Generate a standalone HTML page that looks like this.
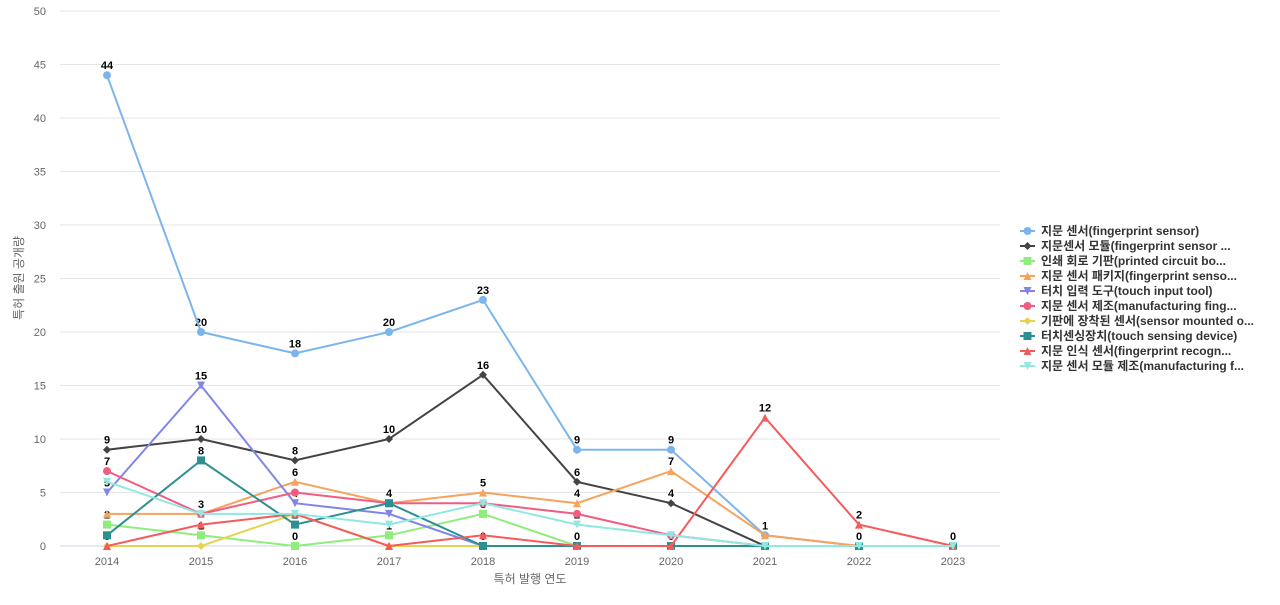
<!DOCTYPE html>
<html><head><meta charset="utf-8"><style>
body{margin:0;background:#fff;font-family:"Liberation Sans","Noto Sans CJK KR",sans-serif}
</style></head><body>
<svg id="c" width="1280" height="600"></svg>
<script>
const years=[2014,2015,2016,2017,2018,2019,2020,2021,2022,2023];
const yTicks=[0,5,10,15,20,25,30,35,40,45,50];
const names=["지문 센서(fingerprint sensor)","지문센서 모듈(fingerprint sensor ...","인쇄 회로 기판(printed circuit bo...","지문 센서 패키지(fingerprint senso...","터치 입력 도구(touch input tool)","지문 센서 제조(manufacturing fing...","기판에 장착된 센서(sensor mounted o...","터치센싱장치(touch sensing device)","지문 인식 센서(fingerprint recogn...","지문 센서 모듈 제조(manufacturing f..."];
const colors=["#7cb5ec","#434348","#90ed7d","#f7a35c","#8085e9","#f15c80","#e4d354","#2b908f","#f45b5b","#91e8e1"];
const markers=["circle","diamond","square","triangle","tdown","circle","diamond","square","triangle","tdown"];
const s0=[44,20,18,20,23,9,9,1,0,0];
const s1=[9,10,8,10,16,6,4,0,0,0];
const s2=[2,1,0,1,3,0,0,0,0,0];
const s3=[3,3,6,4,5,4,7,1,0,0];
const s4=[5,15,4,3,0,0,0,0,0,0];
const s5=[7,3,5,4,4,3,1,0,0,0];
const s6=[0,0,3,0,0,0,0,0,0,0];
const s7=[1,8,2,4,0,0,0,0,0,0];
const s8=[0,2,3,0,1,0,0,12,2,0];
const s9=[6,3,3,2,4,2,1,0,0,0];
const series=[s0,s1,s2,s3,s4,s5,s6,s7,s8,s9];
const svg=document.getElementById('c');const NS='http://www.w3.org/2000/svg';
function mk(t,a,p){const e=document.createElementNS(NS,t);for(const k in a)e.setAttribute(k,a[k]);(p||svg).appendChild(e);return e;}
const X=i=>107+i*94, Y=v=>546-v*10.7;
yTicks.forEach(v=>{const l=mk('line',{x1:60,x2:1000,y1:Y(v),y2:Y(v),stroke:v?'#e6e6e6':'#ccd6eb'});

const t=mk('text',{x:46,y:Y(v)+4,'text-anchor':'end','font-size':11,fill:'#666'});t.textContent=v;
});
years.forEach((y,i)=>{const t=mk('text',{x:X(i),y:565,'text-anchor':'middle','font-size':11,fill:'#666'});t.textContent=y;
});
let t=mk('text',{x:530,y:583,'text-anchor':'middle','font-size':12,fill:'#666'});t.textContent='특허 발행 연도';

t=mk('text',{x:23,y:278,'text-anchor':'middle','font-size':12,fill:'#666',transform:'rotate(-90 23 278)'});t.textContent='특허 출원 공개량';

function marker(g,type,x,y,c){let e;
if(type=='circle')e=mk('circle',{cx:x,cy:y,r:4,fill:c},g);
else if(type=='square')e=mk('rect',{x:x-4,y:y-4,width:8,height:8,fill:c},g);
else if(type=='diamond')e=mk('path',{d:`M${x} ${y-4}L${x+4} ${y}L${x} ${y+4}L${x-4} ${y}Z`,fill:c},g);
else if(type=='triangle')e=mk('path',{d:`M${x} ${y-4}L${x+4} ${y+4}L${x-4} ${y+4}Z`,fill:c},g);
else e=mk('path',{d:`M${x-4} ${y-4}L${x+4} ${y-4}L${x} ${y+4}Z`,fill:c},g);
}
const boxes=[];const labelsG=mk('g',{});
series.forEach((s,si)=>{const g=mk('g',{});
const p=mk('path',{d:s.map((v,i)=>(i?'L':'M')+X(i)+' '+Y(v)).join(''),fill:'none',stroke:colors[si],'stroke-width':2},g);

s.forEach((v,i)=>marker(g,markers[si],X(i),Y(v),colors[si]));});
series.forEach((s,si)=>s.forEach((v,i)=>{const x=X(i),y=Y(v)-6;const w=String(v).length*7+2;
const b={x1:x-w/2,x2:x+w/2,y1:y-11,y2:y+1};
if(boxes.some(o=>b.x1<o.x2&&b.x2>o.x1&&b.y1<o.y2&&b.y2>o.y1))return;boxes.push(b);
const tt=mk('text',{x:x,y:y,'text-anchor':'middle','font-size':11,'font-weight':'bold',fill:'#000',stroke:'#fff','stroke-width':2,'paint-order':'stroke'},labelsG);
tt.textContent=v;}));
names.forEach((n,i)=>{const y=231+i*15;const g=mk('g',{});
mk('line',{x1:1020,x2:1035,y1:y,y2:y,stroke:colors[i],'stroke-width':2},g);marker(g,markers[i],1027.5,y,colors[i]);
const tx=mk('text',{x:1041,y:y+4,'font-size':12,'font-weight':'bold',fill:'#333'},g);tx.textContent=n;});
</script></body></html>
